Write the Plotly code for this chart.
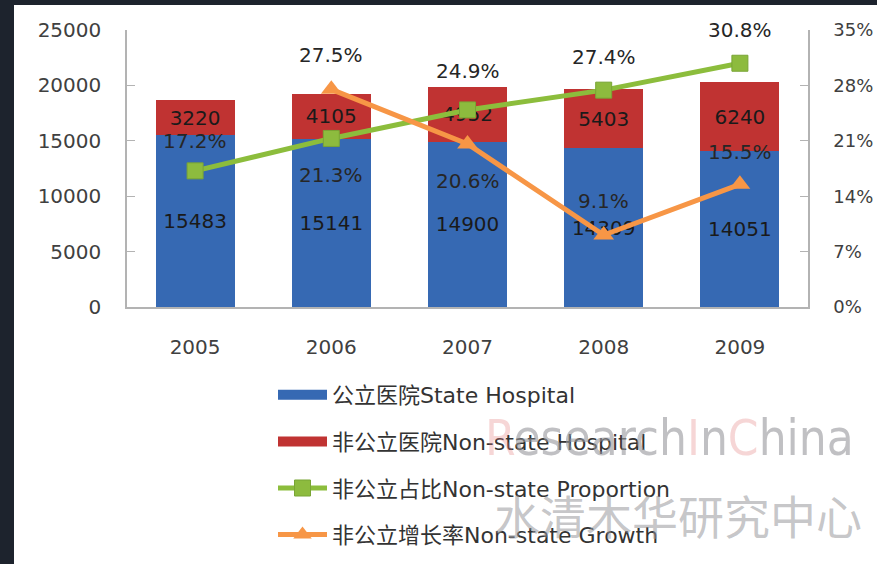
import plotly.graph_objects as go

years = ["2005", "2006", "2007", "2008", "2009"]
state_hosp = [15483, 15141, 14900, 14309, 14051]
nonstate_hosp = [3220, 4105, 4952, 5403, 6240]
nonstate_prop = [0.172, 0.213, 0.249, 0.274, 0.308]
nonstate_growth = [None, 0.275, 0.206, 0.091, 0.155]
prop_labels = ["17.2%", "21.3%", "24.9%", "27.4%", "30.8%"]
growth_labels = [None, "27.5%", "20.6%", "9.1%", "15.5%"]
names = ["公立医院State Hospital", "非公立医院Non-state Hospital",
         "非公立占比Non-state Proportion", "非公立增长率Non-state Growth"]

# label vertical offsets (px) relative to points
prop_shift = [30, -37, 39, 33, 33]
growth_shift = [0, 34, -37, 34, 32]

FONT = "DejaVu Sans, Noto Sans CJK SC, sans-serif"
BLUE = "#3669b3"
RED = "#c03332"
GREEN = "#8cbd3c"
ORANGE = "#f79646"

fig = go.Figure()
fig.add_trace(go.Bar(x=years, y=state_hosp, name=names[0], marker_color=BLUE,
                     marker_line_width=0, text=[str(v) for v in state_hosp],
                     textposition="inside", insidetextanchor="middle",
                     textfont=dict(size=20, color="#1a1a1a", family=FONT),
                     showlegend=False, cliponaxis=False))
fig.add_trace(go.Bar(x=years, y=nonstate_hosp, name=names[1], marker_color=RED,
                     marker_line_width=0, text=[str(v) for v in nonstate_hosp],
                     textposition="inside", insidetextanchor="middle",
                     textfont=dict(size=20, color="#1a1a1a", family=FONT),
                     showlegend=False, cliponaxis=False))
# legend entries for the bars (wide rectangles)
fig.add_trace(go.Scatter(x=[None], y=[None], name=names[0], mode="lines",
                         line=dict(color=BLUE, width=13), legendgroup="a"))
fig.add_trace(go.Scatter(x=[None], y=[None], name=names[1], mode="lines",
                         line=dict(color=RED, width=13), legendgroup="b"))
fig.add_trace(go.Scatter(x=years, y=nonstate_prop, name=names[2], yaxis="y2",
                         mode="lines+markers", line=dict(color=GREEN, width=5),
                         marker=dict(symbol="square", size=16, color="#8dbb3e",
                                     line=dict(color="#79a535", width=1)),
                         legendgroup="c", cliponaxis=False))
fig.add_trace(go.Scatter(x=years, y=nonstate_growth, name=names[3], yaxis="y2",
                         mode="lines+markers", line=dict(color=ORANGE, width=5),
                         marker=dict(symbol="triangle-up", size=18, color=ORANGE),
                         legendgroup="d", cliponaxis=False))

annotations = []
for i in range(len(years)):
    annotations.append(dict(x=i, y=nonstate_prop[i], xref="x", yref="y2",
                            text=prop_labels[i], showarrow=False, yshift=prop_shift[i],
                            font=dict(size=20, color="#262626", family=FONT)))
    if growth_labels[i] is not None:
        annotations.append(dict(x=i, y=nonstate_growth[i], xref="x", yref="y2",
                                text=growth_labels[i], showarrow=False, yshift=growth_shift[i],
                                font=dict(size=20, color="#262626", family=FONT)))

W, H = 877, 564
L, R, T, B = 127, 69, 30, 257
pw, ph = W - L - R, H - T - B

# watermark
annotations.append(dict(
    xref="paper", yref="paper", x=(856 - L) / pw, y=(307 - 438) / ph,
    xanchor="right", yanchor="middle", showarrow=False,
    text=("<span style='color:rgba(225,120,120,0.5)'>R</span>esearch"
          "<span style='color:rgba(225,120,120,0.5)'>I</span>n"
          "<span style='color:rgba(225,120,120,0.5)'>C</span>hina"),
    font=dict(size=49, color="rgba(150,150,155,0.6)",
              family="DejaVu Sans Condensed, Liberation Sans Narrow, DejaVu Sans")))
annotations.append(dict(
    xref="paper", yref="paper", x=(864 - L) / pw, y=(307 - 514) / ph,
    xanchor="right", yanchor="middle", showarrow=False,
    text="水清木华研究中心",
    font=dict(size=46, color="rgba(150,150,155,0.55)", family="Noto Sans CJK SC")))

shapes = [dict(type="rect", xref="paper", yref="paper", layer="below",
               x0=(14 - L) / pw, x1=(W - L + 5) / pw,
               y0=(-(B + 5)) / ph, y1=(ph + T - 5) / ph,
               fillcolor="white", line_width=0)]

fig.update_layout(
    width=W, height=H,
    margin=dict(l=L, r=R, t=T, b=B, pad=0, autoexpand=False),
    paper_bgcolor="#1d232d", plot_bgcolor="rgba(0,0,0,0)",
    barmode="stack", bargap=0.42,
    font=dict(family=FONT, size=20, color="#404040"),
    showlegend=True,
    legend=dict(xref="container", yref="container",
                x=273 / W, y=1 - 374 / H, xanchor="left", yanchor="top",
                orientation="v", traceorder="grouped", tracegroupgap=15,
                itemwidth=49, font=dict(size=22, color="#333333", family=FONT),
                bgcolor="rgba(0,0,0,0)"),
    xaxis=dict(type="category", showline=True, linecolor="#b3b3b3", linewidth=1.5,
               ticks="", showgrid=False, ticklabelstandoff=21, automargin=False,
               tickfont=dict(size=20, color="#404040")),
    yaxis=dict(range=[0, 25000], dtick=5000, tickformat="d", showline=True,
               linecolor="#b3b3b3", automargin=False,
               linewidth=1.5, ticks="inside", ticklen=8, tickcolor="#b3b3b3",
               showgrid=False, zeroline=False, ticklabelstandoff=20,
               tickfont=dict(size=20, color="#404040")),
    yaxis2=dict(range=[0, 0.35], dtick=0.07, tickformat=".0%", overlaying="y", side="right",
                showline=True, linecolor="#b3b3b3", linewidth=1.5, ticks="inside",
                ticklen=8, tickcolor="#b3b3b3", showgrid=False, zeroline=False,
                automargin=False,
                ticklabelstandoff=20, tickfont=dict(size=18, color="#404040")),
    annotations=annotations,
    shapes=shapes,
)

fig.write_html("out.html", config={"displayModeBar": False},
               post_script="document.body.style.margin='0';document.body.style.padding='0';")
